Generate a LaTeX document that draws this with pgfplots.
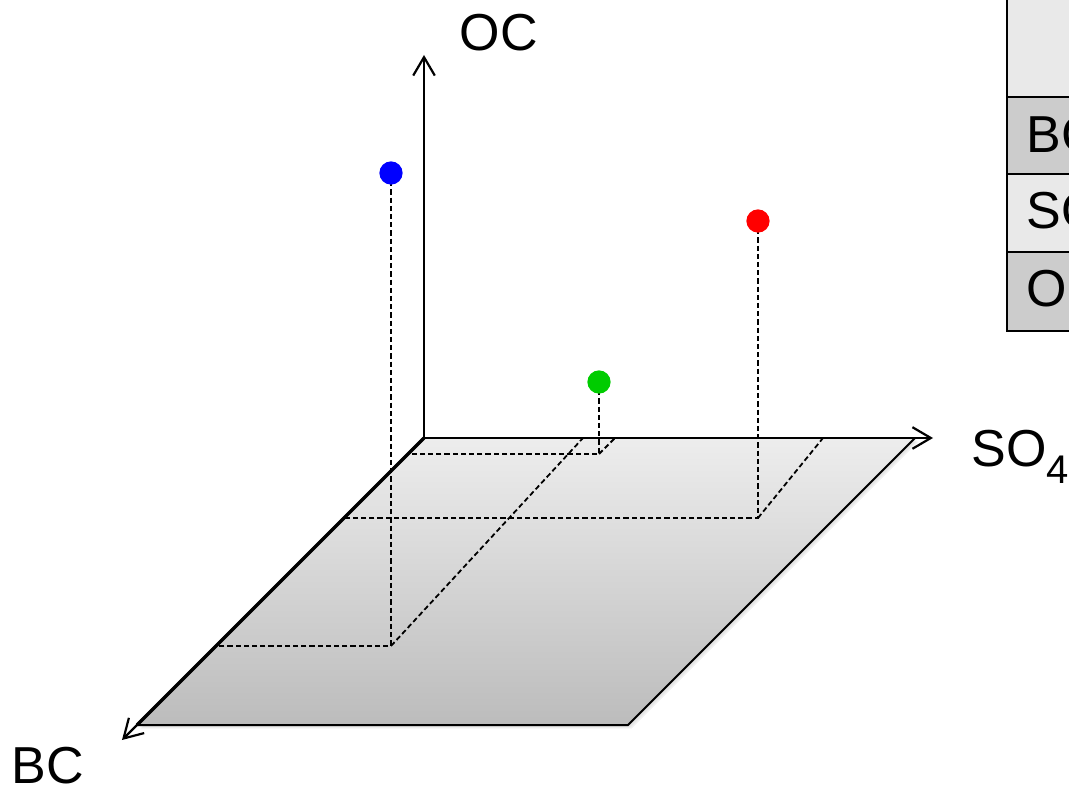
\documentclass[border=0pt]{standalone}
\usepackage{pgfplots}
\pgfplotsset{compat=1.18}
\usepackage{fontspec}
\setmainfont{Liberation Sans}
\usetikzlibrary{arrows.meta}

\definecolor{floortop}{HTML}{EDEDED}
\definecolor{floorbot}{HTML}{BCBCBC}
\definecolor{rowlight}{HTML}{E9E9E9}
\definecolor{rowdark}{HTML}{CCCCCC}
\definecolor{ptgreen}{HTML}{00CC00}

\tikzset{
  dropline/.style={black, dash pattern=on 1.3pt off 0.75pt, line width=0.45pt, mark=none},
  axarrow/.style={line width=0.55pt, -{Straight Barb[length=4.6pt,width=5.4pt,line width=0.55pt]}},
  shadowfill/.style={black, opacity=0.05},
}

\begin{document}
\begin{tikzpicture}[font=\fontsize{13}{15.5}\selectfont]
\useasboundingbox (0,0) rectangle (267.25pt,197.5pt);
\clip (0,0) rectangle (267.25pt,197.5pt);

\begin{axis}[
    hide axis, clip=false,
    x={(0.25pt,0pt)}, y={(-0.25pt,-0.25pt)}, z={(0pt,0.25pt)},
    xmin=0, xmax=510, ymin=0, ymax=302, zmin=0, zmax=383,
    anchor=origin, at={(106pt,88pt)},
]
% soft shadow under the floor
\fill[shadowfill, shift={(0.3pt,-0.3pt)}]
  (axis cs:0,0,0) -- (axis cs:491,0,0) -- (axis cs:491,287,0) -- (axis cs:0,287,0) -- cycle;
\fill[shadowfill, shift={(0.6pt,-0.6pt)}]
  (axis cs:0,0,0) -- (axis cs:491,0,0) -- (axis cs:491,287,0) -- (axis cs:0,287,0) -- cycle;
\fill[shadowfill, shift={(0.9pt,-0.9pt)}]
  (axis cs:0,0,0) -- (axis cs:491,0,0) -- (axis cs:491,287,0) -- (axis cs:0,287,0) -- cycle;
% floor
\fill[top color=floortop, bottom color=floorbot]
  (axis cs:0,0,0) -- (axis cs:491,0,0) -- (axis cs:491,287,0) -- (axis cs:0,287,0) -- cycle;

% projections of the three points
\addplot3[dropline] coordinates {(175,208,473) (175,208,0) (0,208,0)};
\addplot3[dropline] coordinates {(175,208,0) (159,0,0)};
\addplot3[dropline] coordinates {(414,80,297) (414,80,0) (0,80,0)};
\addplot3[dropline] coordinates {(414,80,0) (399,0,0)};
\addplot3[dropline] coordinates {(191,16,72) (191,16,0) (0,16,0)};
\addplot3[dropline] coordinates {(191,16,0) (191,0,0)};

% floor edges and axes
\draw[line width=0.5pt] (axis cs:491,0,0) -- (axis cs:491,287,0) -- (axis cs:0,287,0);
\draw[line width=0.8pt] (axis cs:0,0,0) -- (axis cs:0,287,0);
\draw[axarrow] (axis cs:0,0,0) -- (axis cs:509,0,0);
\draw[axarrow] (axis cs:0,0,0) -- (axis cs:0,0,383);
\draw[axarrow] (axis cs:0,0,0) -- (axis cs:0,302,0);

% points
\addplot3[only marks, mark=*, mark size=2.7pt, color=blue] coordinates {(175,208,473)};
\addplot3[only marks, mark=*, mark size=2.7pt, color=red] coordinates {(414,80,297)};
\addplot3[only marks, mark=*, mark size=2.7pt, color=ptgreen] coordinates {(191,16,72)};
\end{axis}

% labels and the cropped table, in pixel units of the reference
\begin{scope}[x=0.25pt, y=-0.25pt, yshift=197.5pt]
\node[anchor=base west, inner sep=0pt] at (459,51) {OC};
\node[anchor=base west, inner sep=0pt] at (971,467)
  {SO\raisebox{-0.32em}{\fontsize{10}{10}\selectfont 4}};
\node[anchor=base west, inner sep=0pt] at (11,784) {BC};

\fill[rowlight] (1006.7,-5) rectangle (1090,96.7);
\fill[rowdark] (1006.7,96.7) rectangle (1090,174);
\fill[rowlight] (1006.7,174) rectangle (1090,252.3);
\fill[rowdark] (1006.7,252.3) rectangle (1090,331);
\draw[line width=0.55pt] (1006.7,-5) -- (1006.7,331) -- (1090,331);
\draw[line width=0.55pt] (1006.7,96.7) -- (1090,96.7);
\draw[line width=0.55pt] (1006.7,174) -- (1090,174);
\draw[line width=0.55pt] (1006.7,252.3) -- (1090,252.3);
\node[anchor=base west, inner sep=0pt] at (1026,153) {BC};
\node[anchor=base west, inner sep=0pt] at (1026,229) {SO\raisebox{-0.32em}{\fontsize{10}{10}\selectfont 4}};
\node[anchor=base west, inner sep=0pt] at (1026,307) {OC};
\end{scope}
\end{tikzpicture}
\end{document}
